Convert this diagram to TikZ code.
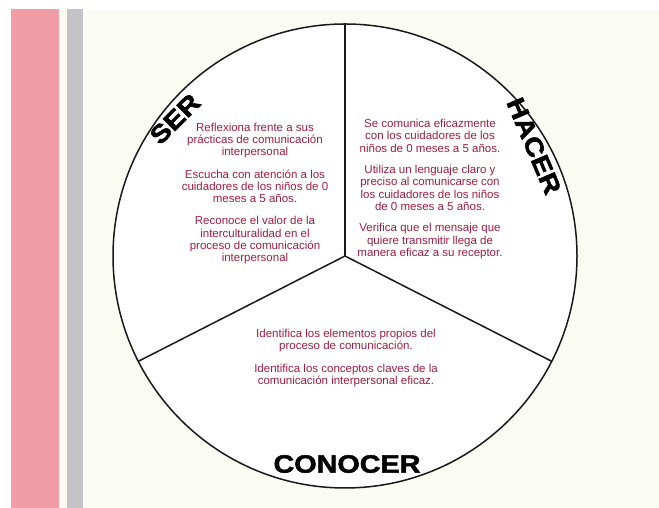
\documentclass[tikz,border=0pt]{standalone}
\usepackage{fontspec}
\setmainfont{Liberation Sans}
\newfontfamily\headfont[FakeStretch=1.15,FakeBold=2]{Liberation Sans}
\usepackage{tikz}
\usetikzlibrary{positioning}
\definecolor{wine}{RGB}{158,30,66}
\definecolor{rose}{RGB}{241,157,166}
\definecolor{stone}{RGB}{196,196,200}
\definecolor{ivory}{RGB}{250,251,243}
\definecolor{shell}{RGB}{253,250,242}

\begin{document}
\begin{tikzpicture}[x=1pt,y=1pt,
                    red text/.style=   {text=wine,align=center,font=\fontsize{11.5}{12.3}\selectfont},
                    black title/.style={text=black,font=\headfont\bfseries\fontsize{25}{25}\selectfont},
                    pie line/.style=   {draw=black!90,line width=1.5pt}]
      \useasboundingbox (0,0) rectangle (659,508);
      \fill[white] (0,0) rectangle (659,508);
      \fill[rose] (11,0) rectangle (59,499);
      \fill[shell] (59,0) rectangle (67,499);
      \fill[stone] (67,0) rectangle (83,499);
      \fill[ivory] (83,0) rectangle (659,499);
      \coordinate (o) at (345,252);
      \filldraw[pie line,fill=white] (o) circle[radius=232];
      \foreach \a in {90,207,333}
        \draw[pie line] (o) -- +(\a:232);
      \node[red text, xshift=-90pt, yshift=62.5pt] (a) at (o) {Reflexiona frente a sus\\prácticas de comunicación\\interpersonal\\[10pt]Escucha con atención a los\\cuidadores de los niños de 0\\meses a 5 años.\\[10pt]Reconoce el valor de la\\interculturalidad en el\\proceso de comunicación\\interpersonal};
      \node[red text, xshift=85pt, yshift=67pt] (b) at (o) {Se comunica eficazmente\\con los cuidadores de los\\niños de 0 meses a 5 años.\\[9pt]Utiliza un lenguaje claro y\\preciso al comunicarse con\\los cuidadores de los niños\\de 0 meses a 5 años.\\[9pt]Verifica que el mensaje que\\quiere transmitir llega de\\manera eficaz a su receptor.};
      \node[red text, xshift=1pt, yshift=-102pt] (c) at (o) {Identifica los elementos propios del\\proceso de comunicación.\\[10pt]Identifica los conceptos claves de la\\comunicación interpersonal eficaz.};
      \node[black title, xshift=-170pt, yshift=137pt, rotate=45] (ser) at (o) {SER};
      \node[black title, xshift=189pt, yshift=110pt, rotate=-67] (hacer) at (o) {HACER};
      \node[black title, xshift=2pt, yshift=-208pt] (conocer) at (o) {CONOCER};
\end{tikzpicture}
\end{document}
